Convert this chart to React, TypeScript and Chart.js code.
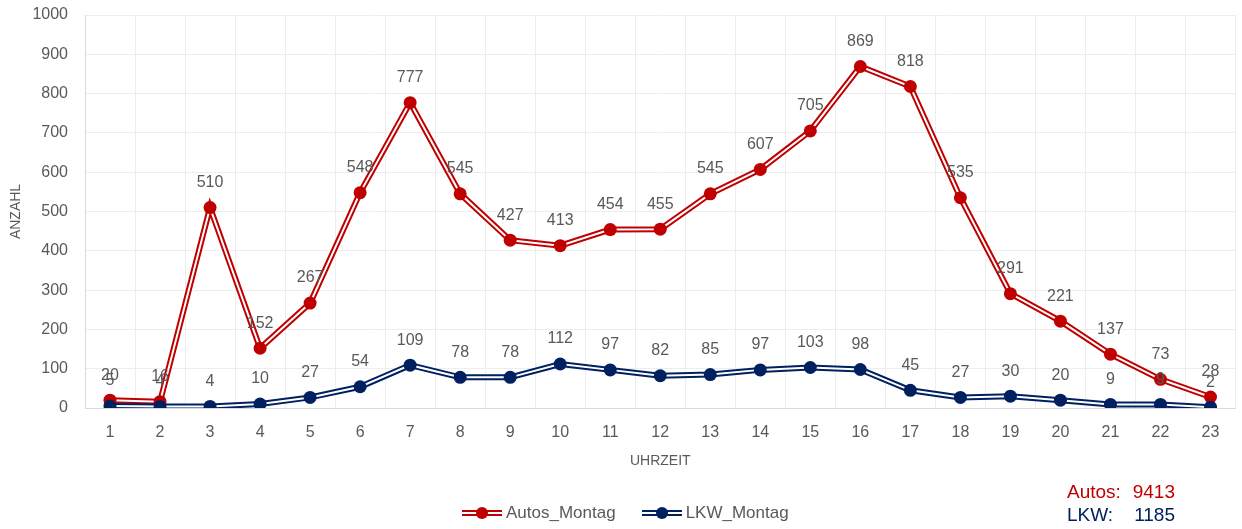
import React, { useEffect, useRef } from "react";
import { Chart, registerables } from "chart.js";

Chart.register(...registerables);

const hours = ["1","2","3","4","5","6","7","8","9","10","11","12","13","14","15","16","17","18","19","20","21","22","23"];
const autosMontag = [20,16,510,152,267,548,777,545,427,413,454,455,545,607,705,869,818,535,291,221,137,73,28];
const lkwMontag = [5,4,4,10,27,54,109,78,78,112,97,82,85,97,103,98,45,27,30,20,9,9,2];
const yTicks = [0,100,200,300,400,500,600,700,800,900,1000];
const seriesNames = ["Autos_Montag", "LKW_Montag"];
const totalsLabels = ["Autos:", "LKW:"];
const totalsValues = [9413, 1185];

const RED = "#C00000";
const BLUE = "#002060";
const GRAY = "#595959";
const FONT = "'Liberation Sans', Arial, sans-serif";

const dataLabelPlugin = {
  id: "dataLabels",
  afterDatasetsDraw(chart: any) {
    const ctx = chart.ctx;
    ctx.save();
    ctx.font = `16px ${FONT}`;
    ctx.fillStyle = GRAY;
    ctx.textAlign = "center";
    ctx.textBaseline = "middle";
    chart.data.datasets.forEach((ds: any, i: number) => {
      if (!ds.showLabels) return;
      const meta = chart.getDatasetMeta(i);
      meta.data.forEach((pt: any, j: number) => {
        ctx.fillText(String(ds.data[j]), pt.x, pt.y - 25);
      });
    });
    ctx.restore();
  },
};

function LegendItem({ color, text }: { color: string; text: string }) {
  return (
    <div style={{ display: "flex", alignItems: "center", marginRight: 26 }}>
      <div style={{ position: "relative", width: 40, height: 12, marginRight: 4 }}>
        <div style={{ position: "absolute", left: 0, top: 3, width: 40, height: 0, borderTop: `6px double ${color}` }} />
        <div style={{ position: "absolute", left: 14, top: 0, width: 12, height: 12, borderRadius: "50%", background: color }} />
      </div>
      <span style={{ fontFamily: FONT, fontSize: 17, color: GRAY }}>{text}</span>
    </div>
  );
}

export default function App() {
  const ref = useRef<HTMLCanvasElement | null>(null);

  useEffect(() => {
    if (!ref.current) return;
    const mk = (data: number[], color: string, order: number, label: string) => [
      {
        label: label + "_outer",
        data,
        borderColor: color,
        borderWidth: 6,
        pointRadius: 0,
        fill: false,
        tension: 0,
        order: order + 1,
      },
      {
        label,
        data,
        borderColor: "#FFFFFF",
        borderWidth: 2,
        pointRadius: 6.5,
        pointBackgroundColor: color,
        pointBorderColor: color,
        pointBorderWidth: 0,
        fill: false,
        tension: 0,
        order,
        showLabels: true,
      },
    ];
    const chart = new Chart(ref.current, {
      type: "line",
      data: {
        labels: hours,
        datasets: [
          ...mk(autosMontag, RED, 3, seriesNames[0]),
          ...mk(lkwMontag, BLUE, 1, seriesNames[1]),
        ] as any,
      },
      options: {
        responsive: false,
        animation: false,
        devicePixelRatio: 1,
        layout: { padding: { top: 15, right: 2, bottom: 55, left: 0 } },
        plugins: { legend: { display: false }, tooltip: { enabled: false } },
        scales: {
          x: {
            type: "category",
            offset: true,
            grid: { offset: true, color: "#EDEDED", drawTicks: false },
            border: { color: "#D9D9D9" },
            ticks: { color: GRAY, font: { family: FONT, size: 16 }, padding: 15, maxRotation: 0, autoSkip: false },
            title: { display: true, text: "UHRZEIT", color: GRAY, font: { family: FONT, size: 14 }, padding: 4 },
            afterFit(scale: any) { scale.height = 66; scale.paddingLeft = 0; scale.paddingRight = 0; },
          },
          y: {
            min: 0,
            max: 1000,
            afterBuildTicks(scale: any) { scale.ticks = yTicks.map((v) => ({ value: v })); },
            grid: { color: "#EDEDED", drawTicks: false },
            border: { color: "#D9D9D9" },
            ticks: { color: GRAY, font: { family: FONT, size: 16 }, padding: 17, callback: (v: any) => String(v) },
            title: { display: true, text: "ANZAHL", color: GRAY, font: { family: FONT, size: 14 }, padding: 8 },
            afterFit(scale: any) { scale.width = 85; scale.paddingTop = 0; scale.paddingBottom = 0; },
          },
        },
      } as any,
      plugins: [dataLabelPlugin],
    });
    return () => chart.destroy();
  }, []);

  return (
    <div style={{ position: "fixed", left: 0, top: 0, width: 1242, height: 529, background: "#fff" }}>
      <canvas ref={ref} width={1242} height={529} style={{ position: "absolute", left: 0, top: 0 }} />
      <div style={{ position: "absolute", left: 462, top: 502, display: "flex", alignItems: "center", height: 22 }}>
        <LegendItem color={RED} text={seriesNames[0]} />
        <LegendItem color={BLUE} text={seriesNames[1]} />
      </div>
      <div style={{ position: "absolute", left: 1067, top: 480, fontFamily: FONT, fontSize: 19, lineHeight: "23px" }}>
        {totalsLabels.map((l, i) => (
          <div key={l} style={{ color: i === 0 ? RED : BLUE, display: "flex", width: 108, justifyContent: "space-between" }}>
            <span>{l}</span>
            <span>{totalsValues[i]}</span>
          </div>
        ))}
      </div>
    </div>
  );
}
